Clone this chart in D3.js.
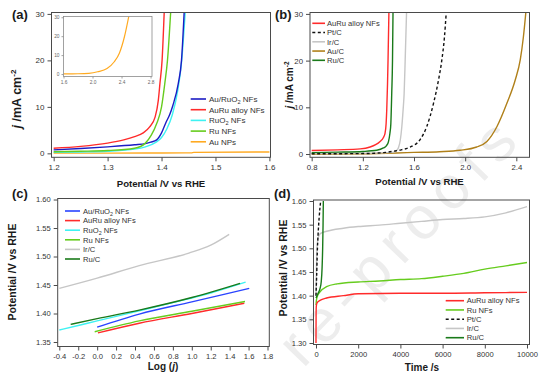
<!DOCTYPE html>
<html><head><meta charset="utf-8">
<script src="https://cdn.jsdelivr.net/npm/d3@7"></script>
<style>
body{margin:0;background:#fff}
svg{display:block}
text{font-family:"Liberation Sans",Arial,sans-serif}
</style>
</head><body>
<svg id="c" width="554" height="381"></svg>
<script>
// ---------------- DATA ----------------
// Panel (a): LSV, [potential V vs RHE, j mA cm-2]
const aAuRuO2 = [[1.2,0.75],[1.25,1.05],[1.3,1.4],[1.35,1.85],[1.37,2.1],[1.38,2.4],[1.391,2.9],[1.4,4.4],[1.408,6.6],[1.415,8.3],[1.421,10.3],[1.431,15],[1.437,20],[1.442,30.5]];
const aAuRu   = [[1.2,1.1],[1.25,1.5],[1.3,2.2],[1.33,2.9],[1.35,3.6],[1.366,4.4],[1.378,5.7],[1.388,7.8],[1.394,11.4],[1.397,15],[1.401,20],[1.405,30.5]];
const aRuO2   = [[1.2,0.2],[1.25,0.3],[1.3,0.45],[1.35,0.9],[1.37,1.4],[1.39,2.4],[1.4,3.4],[1.41,5.3],[1.42,8.3],[1.43,13.5],[1.437,19.5],[1.444,30.5]];
const aRu     = [[1.2,0.35],[1.25,0.45],[1.3,0.6],[1.35,1.1],[1.37,2.2],[1.381,3.9],[1.391,6.4],[1.4,10],[1.406,15],[1.411,20],[1.417,30.5]];
const aAu     = [[1.2,0.05],[1.3,0.05],[1.4,0.08],[1.455,0.1],[1.46,0.2],[1.6,0.3]];
const aAuInset = [[1.6,0.1],[1.7,0.12],[1.8,0.15],[1.95,0.4],[2.07,1.2],[2.2,2.9],[2.3,6.5],[2.37,11],[2.44,19.7],[2.5,30.5]];
const aLabels = ["Au/RuO_2 NFs","AuRu alloy NFs","RuO_2 NFs","Ru NFs","Au NPs"];
const aXTicks = [1.2,1.3,1.4,1.5,1.6];
const aYTicks = [0,10,20,30];
const insetXTicks = [1.6,2.0,2.4,2.8];
const insetYTicks = [0,10,20,30];

// Panel (b)
const bAuRu = [[0.8,0.75],[1.0,0.9],[1.18,1.1],[1.257,1.5],[1.3,2.0],[1.335,2.7],[1.36,3.5],[1.374,4.5],[1.382,6.5],[1.387,9.5],[1.393,15],[1.397,20],[1.404,30.5]];
const bPtC  = [[0.8,0.05],[1.2,0.1],[1.38,0.35],[1.44,0.6],[1.5,0.9],[1.57,1.5],[1.648,3.1],[1.70,5.9],[1.753,10.9],[1.792,15.9],[1.818,20.2],[1.838,25],[1.852,30.3]];
const bIrC  = [[0.8,0.15],[1.2,0.2],[1.4,0.3],[1.44,0.4],[1.465,0.8],[1.479,1.4],[1.493,3.0],[1.505,5.9],[1.515,9.5],[1.523,13],[1.531,20],[1.542,30.5]];
const bAuC  = [[0.8,0.0],[1.2,0.05],[1.6,0.35],[1.8,0.5],[1.96,0.8],[2.09,1.5],[2.17,2.7],[2.249,5.9],[2.327,10.9],[2.392,15.9],[2.431,20.2],[2.455,25],[2.475,30.5]];
const bRuC  = [[0.8,0.3],[1.0,0.4],[1.2,0.55],[1.309,0.8],[1.361,1.3],[1.385,1.8],[1.40,2.6],[1.412,4.5],[1.419,6.5],[1.426,13],[1.432,20],[1.436,30.5]];
const bLabels = ["AuRu alloy NFs","Pt/C","Ir/C","Au/C","Ru/C"];
const bXTicks = [0.8,1.2,1.6,2.0,2.4];
const bYTicks = [0,10,20,30];

// Panel (c): Tafel, [log j, potential]
const cAuRuO2 = [[0.0,1.376],[0.445,1.399],[1.0,1.4205],[1.607,1.444]];
const cAuRu   = [[0.008,1.366],[0.445,1.383],[1.0,1.400],[1.555,1.418]];
const cRuO2   = [[-0.4,1.371],[-0.2,1.379],[0,1.387],[0.2,1.395],[0.4,1.403],[0.8,1.419],[1.2,1.436],[1.569,1.455]];
const cRu     = [[-0.026,1.368],[0.445,1.387],[1.0,1.404],[1.562,1.421]];
const cIrC    = [[-0.4,1.444],[0,1.462],[0.445,1.484],[0.969,1.506],[1.2,1.52],[1.395,1.539]];
const cRuC    = [[-0.28,1.381],[0,1.391],[0.445,1.406],[1.0,1.428],[1.51,1.453]];
const cLabels = ["Au/RuO_2 NFs","AuRu alloy NFs","RuO_2 NFs","Ru NFs","Ir/C","Ru/C"];
const cXTicks = [-0.4,-0.2,0,0.2,0.4,0.6,0.8,1.0,1.2,1.4,1.6,1.8];
const cYTicks = [1.35,1.40,1.45,1.50,1.55,1.60];

// Panel (d): chronopotentiometry, [time s, potential]
const dAuRu = [[0,1.30],[5,1.36],[15,1.378],[50,1.385],[190,1.390],[500,1.395],[1300,1.400],[2000,1.404],[4000,1.405],[6000,1.405],[8000,1.406],[10000,1.407]];
const dRu   = [[0,1.38],[20,1.39],[60,1.398],[190,1.408],[500,1.419],[1000,1.425],[2000,1.429],[3000,1.431],[4000,1.434],[5000,1.436],[6000,1.441],[7000,1.447],[8000,1.456],[9000,1.463],[10000,1.470]];
const dPtC  = [[0,1.40],[30,1.44],[60,1.49],[100,1.53],[150,1.565],[220,1.60]];
const dIrC  = [[0,1.40],[20,1.45],[50,1.50],[100,1.522],[200,1.531],[500,1.536],[1300,1.5425],[2000,1.546],[3000,1.549],[4000,1.553],[5000,1.557],[6000,1.561],[7000,1.563],[8000,1.5665],[9000,1.575],[10000,1.588]];
const dRuC  = [[0,1.395],[100,1.405],[190,1.415],[250,1.43],[290,1.46],[316,1.50],[335,1.55],[348,1.60]];
const dLabels = ["AuRu alloy NFs","Ru NFs","Pt/C","Ir/C","Ru/C"];
const dXTicks = [0,2000,4000,6000,8000,10000];
const dYTicks = [1.30,1.35,1.40,1.45,1.50,1.55,1.60];

// ---------------- STYLE ----------------
const COL = {
  auRuO2a:"#1c1cc4", auRuO2c:"#2a44ff", auRu:"#ff2b2b", ruO2:"#3ef2f2", ru:"#66cc1e",
  au:"#ffaa22", pt:"#111111", ir:"#c6c6c6", auC:"#b0801a", ruC:"#1a7a1a"
};
const AXC = "#4a4a4a", TXT = "#333";

const svg = d3.select("#c");

// watermark (behind everything)
svg.append("text")
  .attr("x", 303).attr("y", 369)
  .attr("text-anchor", "start")
  .attr("transform", "rotate(-46,303,369)")
  .attr("font-size", 60).attr("letter-spacing", 9)
  .attr("fill", "#ededed")
  .text("re-proofs");

let clipN = 0;
function addLabel(sel, str) {
  const parts = str.split("_2");
  sel.append("tspan").text(parts[0]);
  if (parts.length > 1) {
    sel.append("tspan").attr("dy", 2).attr("font-size", "70%").text("2");
    sel.append("tspan").attr("dy", -2).text(parts[1]);
  }
}

function panel(p) {
  const [x0, y0, x1, y1] = p.box;
  const x = d3.scaleLinear().domain(p.xDom).range([x0, x1]);
  const y = d3.scaleLinear().domain(p.yDom).range([y1, y0]);
  const g = svg.append("g");
  const id = "clip" + (clipN++);
  svg.append("clipPath").attr("id", id).append("rect")
    .attr("x", x0).attr("y", y0).attr("width", x1 - x0).attr("height", y1 - y0);
  if (p.bg) g.append("rect").attr("x", x0).attr("y", y0).attr("width", x1 - x0).attr("height", y1 - y0).attr("fill", "#fff");

  const ax = g.append("g").attr("transform", `translate(0,${y1})`)
    .call(d3.axisBottom(x).tickValues(p.xTicks).tickFormat(p.xFmt).tickSize(p.tick).tickPadding(p.pad));
  const ay = g.append("g").attr("transform", `translate(${x0},0)`)
    .call(d3.axisLeft(y).tickValues(p.yTicks).tickFormat(p.yFmt).tickSize(p.tick).tickPadding(p.pad));
  [ax, ay].forEach(a => {
    a.select(".domain").remove();
    a.selectAll("line").attr("stroke", p.axc || AXC).attr("stroke-width", p.tw || 1);
    a.selectAll("text").attr("fill", p.txc || TXT).attr("font-size", p.fs)
      .style("font-family", '"Liberation Sans", Arial, sans-serif');
  });

  const line = d3.line().x(d => x(d[0])).y(d => y(d[1])).curve(d3.curveMonotoneX);
  const cg = g.append("g").attr("clip-path", `url(#${id})`);
  p.series.forEach(s => {
    cg.append("path").datum(s.data).attr("d", line).attr("fill", "none")
      .attr("stroke", s.color).attr("stroke-width", s.w || 1.4)
      .attr("stroke-dasharray", s.dash || null).attr("stroke-linejoin", "round");
  });
  g.append("rect").attr("x", x0).attr("y", y0).attr("width", x1 - x0).attr("height", y1 - y0)
    .attr("fill", "none").attr("stroke", p.axc || AXC).attr("stroke-width", p.tw || 1);
  return { x, y, g };
}

function legend(items, lx0, lx1, tx, ty0, dy, fs) {
  items.forEach((it, i) => {
    const yy = ty0 + i * dy;
    svg.append("line").attr("x1", lx0).attr("x2", lx1).attr("y1", yy).attr("y2", yy)
      .attr("stroke", it.color).attr("stroke-width", it.w || 1.6)
      .attr("stroke-dasharray", it.dash || null);
    const t = svg.append("text").attr("x", tx).attr("y", yy + fs * 0.36)
      .attr("font-size", fs).attr("fill", TXT);
    addLabel(t, it.label);
  });
}

function text(x, y, str, fs, opts = {}) {
  const t = svg.append("text").attr("x", x).attr("y", y).attr("font-size", fs)
    .attr("font-weight", opts.bold ? "bold" : null).attr("fill", opts.fill || "#1a1a1a")
    .attr("text-anchor", opts.anchor || "middle");
  if (opts.rot) t.attr("transform", `rotate(${opts.rot},${x},${y})`);
  if (str) t.text(str);
  return t;
}
function jTitle(x, y, fs) {
  const t = text(x, y, "", fs, { bold: true, rot: -90 });
  t.append("tspan").attr("font-style", "italic").text("j");
  t.append("tspan").text(" /mA cm");
  t.append("tspan").attr("dy", -fs * 0.4).attr("font-size", "65%").text("-2");
}

const f1 = d => d.toFixed(1), f2 = d => d.toFixed(2), fi = d => String(d);

// ---------------- PANEL A ----------------
const sa = [
  { data: aAu, color: COL.au },
  { data: aRuO2, color: COL.ruO2 },
  { data: aAuRuO2, color: COL.auRuO2a },
  { data: aRu, color: COL.ru },
  { data: aAuRu, color: COL.auRu }
];
panel({ box: [51.5, 12.5, 270.5, 157.3], xDom: [1.196, 1.602], yDom: [-0.85, 30.3],
  xTicks: aXTicks, yTicks: aYTicks, xFmt: f1, yFmt: fi, tick: 4, pad: 3, fs: 8, series: sa });
panel({ box: [63.5, 16.5, 152, 76.5], xDom: [1.6, 2.82], yDom: [-1.3, 30.4], bg: true,
  xTicks: insetXTicks, yTicks: insetYTicks, xFmt: f1, yFmt: fi, tick: 2, pad: 2, fs: 4.8,
  axc: "#8a8a8a", txc: "#666", tw: 0.8, series: [{ data: aAuInset, color: COL.au, w: 1.2 }] });
legend([
  { label: aLabels[0], color: COL.auRuO2a }, { label: aLabels[1], color: COL.auRu },
  { label: aLabels[2], color: COL.ruO2 }, { label: aLabels[3], color: COL.ru },
  { label: aLabels[4], color: COL.au }
], 190.7, 206, 209, 99, 10.7, 8);
text(161, 187, "Potential /V vs RHE", 9.6, { bold: true });
jTitle(21, 99, 12.5);
text(12, 19, "(a)", 13, { bold: true, anchor: "start" });

// ---------------- PANEL B ----------------
panel({ box: [310, 12.5, 529.5, 157.3], xDom: [0.787, 2.503], yDom: [-0.7, 30.3],
  xTicks: bXTicks, yTicks: bYTicks, xFmt: f1, yFmt: fi, tick: 4, pad: 3, fs: 7.8,
  series: [
    { data: bAuC, color: COL.auC }, { data: bIrC, color: COL.ir },
    { data: bPtC, color: COL.pt, dash: "3,2.5" }, { data: bRuC, color: COL.ruC },
    { data: bAuRu, color: COL.auRu }
  ] });
legend([
  { label: bLabels[0], color: COL.auRu }, { label: bLabels[1], color: COL.pt, dash: "3,2.5" },
  { label: bLabels[2], color: COL.ir }, { label: bLabels[3], color: COL.auC },
  { label: bLabels[4], color: COL.ruC }
], 312.3, 325, 327, 23.3, 9.25, 7.6);
text(419.5, 185, "Potential /V vs RHE", 9.6, { bold: true });
jTitle(293, 85, 10);
text(275, 19, "(b)", 13, { bold: true, anchor: "start" });

// ---------------- PANEL C ----------------
panel({ box: [57.7, 198.5, 269.3, 346.5], xDom: [-0.417, 1.819], yDom: [1.3421, 1.6018],
  xTicks: cXTicks, yTicks: cYTicks, xFmt: f1, yFmt: f2, tick: 4, pad: 3, fs: 7.6,
  series: [
    { data: cIrC, color: COL.ir }, { data: cRuO2, color: COL.ruO2 },
    { data: cRuC, color: COL.ruC }, { data: cAuRuO2, color: COL.auRuO2c },
    { data: cAuRu, color: COL.auRu }, { data: cRu, color: COL.ru }
  ] });
legend([
  { label: cLabels[0], color: COL.auRuO2c }, { label: cLabels[1], color: COL.auRu },
  { label: cLabels[2], color: COL.ruO2 }, { label: cLabels[3], color: COL.ru },
  { label: cLabels[4], color: COL.ir }, { label: cLabels[5], color: COL.ruC }
], 65, 80, 83, 211, 9.6, 7.6);
{
  const t = text(163, 370, "", 10, { bold: true });
  t.append("tspan").text("Log (");
  t.append("tspan").attr("font-style", "italic").text("j");
  t.append("tspan").text(")");
}
text(16, 272, "Potential /V vs RHE", 10.5, { bold: true, rot: -90 });
text(12, 198, "(c)", 13, { bold: true, anchor: "start" });

// ---------------- PANEL D ----------------
panel({ box: [313.5, 200, 529.5, 344.5], xDom: [-118, 10118], yDom: [1.2968, 1.6021],
  xTicks: dXTicks, yTicks: dYTicks, xFmt: fi, yFmt: f2, tick: 4, pad: 3, fs: 7.6,
  series: [
    { data: dIrC, color: COL.ir }, { data: dRu, color: COL.ru },
    { data: dAuRu, color: COL.auRu }, { data: dPtC, color: COL.pt, dash: "3,2" },
    { data: dRuC, color: COL.ruC }
  ] });
legend([
  { label: dLabels[0], color: COL.auRu }, { label: dLabels[1], color: COL.ru },
  { label: dLabels[2], color: COL.pt, dash: "3,2.5" }, { label: dLabels[3], color: COL.ir },
  { label: dLabels[4], color: COL.ruC }
], 445.7, 464, 466.7, 300.7, 9.25, 7.6);
text(422, 371, "Time /s", 10, { bold: true });
text(287, 268, "Potential /V vs RHE", 10.5, { bold: true, rot: -90 });
text(274, 198, "(d)", 13, { bold: true, anchor: "start" });
</script>
</body></html>
